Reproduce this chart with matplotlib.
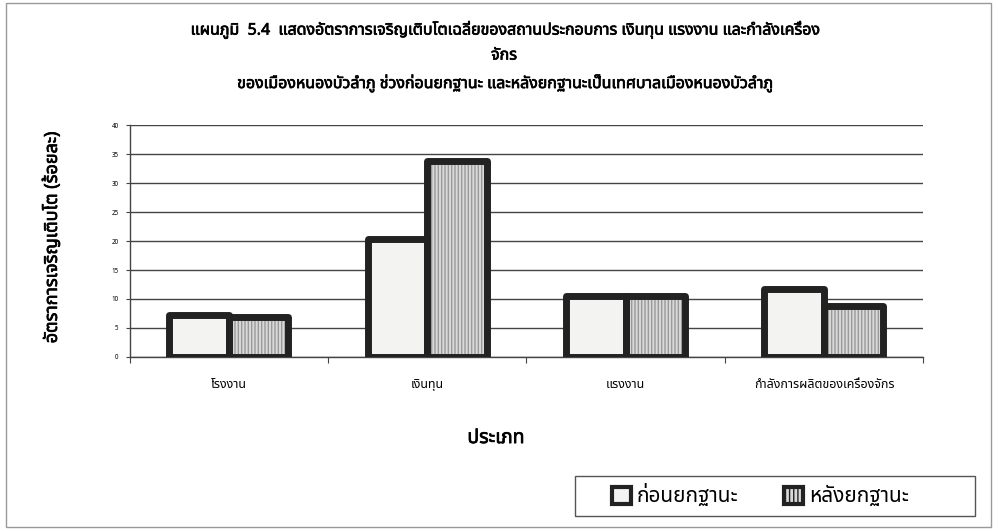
import matplotlib
matplotlib.use("Agg")
import matplotlib.pyplot as plt
import matplotlib.patheffects as pe
from matplotlib import font_manager
from matplotlib.ft2font import FT2Font
from matplotlib.patches import Patch, Rectangle
import numpy as np

# data
categories = ["โรงงาน", "เงินทุน", "แรงงาน", "กำลังการผลิตของเครื่องจักร"]
before = [7.2, 20.3, 10.5, 11.7]   # ก่อนยกฐานะ
after = [6.8, 33.9, 10.5, 8.8]     # หลังยกฐานะ
series_names = ["ก่อนยกฐานะ", "หลังยกฐานะ"]
yticks = [0, 5, 10, 15, 20, 25, 30, 35, 40]

title = ("แผนภูมิ  5.4  แสดงอัตราการเจริญเติบโตเฉลี่ยของสถานประกอบการ เงินทุน แรงงาน และกำลังเครื่อง\n"
         "จักร\n"
         "ของเมืองหนองบัวลำภู ช่วงก่อนยกฐานะ และหลังยกฐานะเป็นเทศบาลเมืองหนองบัวลำภู")
ylabel = "อัตราการเจริญเติบโต (ร้อยละ)"
xlabel = "ประเภท"


def find_thai_font():
    names = [f.name for f in font_manager.fontManager.ttflist]
    for cand in ["Noto Sans Thai", "Noto Serif Thai", "Loma", "Garuda", "Norasi",
                 "TH Sarabun New", "Tahoma"]:
        if cand in names:
            return cand
    for f in font_manager.fontManager.ttflist:
        try:
            if 0x0E01 in FT2Font(f.fname).get_charmap():
                return f.name
        except Exception:
            pass
    return None


thai = find_thai_font()
fams = [thai, "DejaVu Sans"] if thai else ["DejaVu Sans"]
plt.rcParams["font.family"] = fams

# fake bold, the thai face has no bold weight here
heavy = [pe.withStroke(linewidth=0.5, foreground="black")]

fig = plt.figure(figsize=(9.98, 5.31), dpi=100)
ax = fig.add_axes([0.130, 0.328, 0.795, 0.436])

x = np.arange(len(categories))
w = 0.3
edge = "#222222"

# fills first, then thick outlines on top
ax.bar(x - w / 2, before, w, color="#f3f3f1", linewidth=0, zorder=2)
ax.bar(x + w / 2, after, w, color="#d9d9d9", edgecolor="#999999",
       hatch="|||||", linewidth=0, zorder=2)
for vals, off in [(before, -w / 2), (after, w / 2)]:
    bars = ax.bar(x + off, vals, w, fill=False, edgecolor=edge, linewidth=5, zorder=3)
    for b in bars:
        b.set_joinstyle("round")

ax.set_xlim(-0.5, len(categories) - 0.5)
ax.set_ylim(0, 40)
ax.set_yticks(yticks)
ax.set_yticklabels([str(t) for t in yticks], fontsize=4.5)
ax.yaxis.grid(True, color="#444444", linewidth=1.0)
ax.set_axisbelow(True)
ax.tick_params(axis="y", length=3, width=0.8, color="#444444", pad=5)

ax.set_xticks(x)
ax.set_xticklabels(categories, fontsize=9)
ax.set_xticks(np.arange(len(categories) + 1) - 0.5, minor=True)
ax.tick_params(axis="x", which="major", length=0, pad=15)
ax.tick_params(axis="x", which="minor", length=4, width=0.8, color="#444444")

for s in ["top", "right"]:
    ax.spines[s].set_visible(False)
for s in ["left", "bottom"]:
    ax.spines[s].set_color("#444444")
    ax.spines[s].set_linewidth(1.0)

fig.text(0.505, 0.893, title, ha="center", va="center", fontsize=11.5,
         linespacing=1.75, path_effects=heavy)
fig.text(0.052, 0.554, ylabel, rotation=90, ha="center", va="center",
         fontsize=13, path_effects=heavy)
fig.text(0.497, 0.175, xlabel, ha="center", va="center", fontsize=14,
         path_effects=heavy)

# legend box drawn separately so its size matches the original
fig.patches.append(Rectangle((0.576, 0.028), 0.401, 0.075, transform=fig.transFigure,
                             fill=False, edgecolor="#555555", linewidth=1.0))
handles = [Patch(facecolor="#f3f3f1", edgecolor=edge, linewidth=3),
           Patch(facecolor="#d9d9d9", edgecolor=edge, linewidth=3, hatch="||||")]
leg = fig.legend(handles, series_names, loc="center", bbox_to_anchor=(0.762, 0.066),
                 ncol=2, fontsize=15, frameon=False, handlelength=0.9,
                 handleheight=0.9, handletextpad=0.3, columnspacing=2.2)

# chart area border
fig.patches.append(Rectangle((0.006, 0.008), 0.987, 0.986, transform=fig.transFigure,
                             fill=False, edgecolor="#999999", linewidth=1.0))

fig.savefig("out.png", dpi=100, facecolor="white")
